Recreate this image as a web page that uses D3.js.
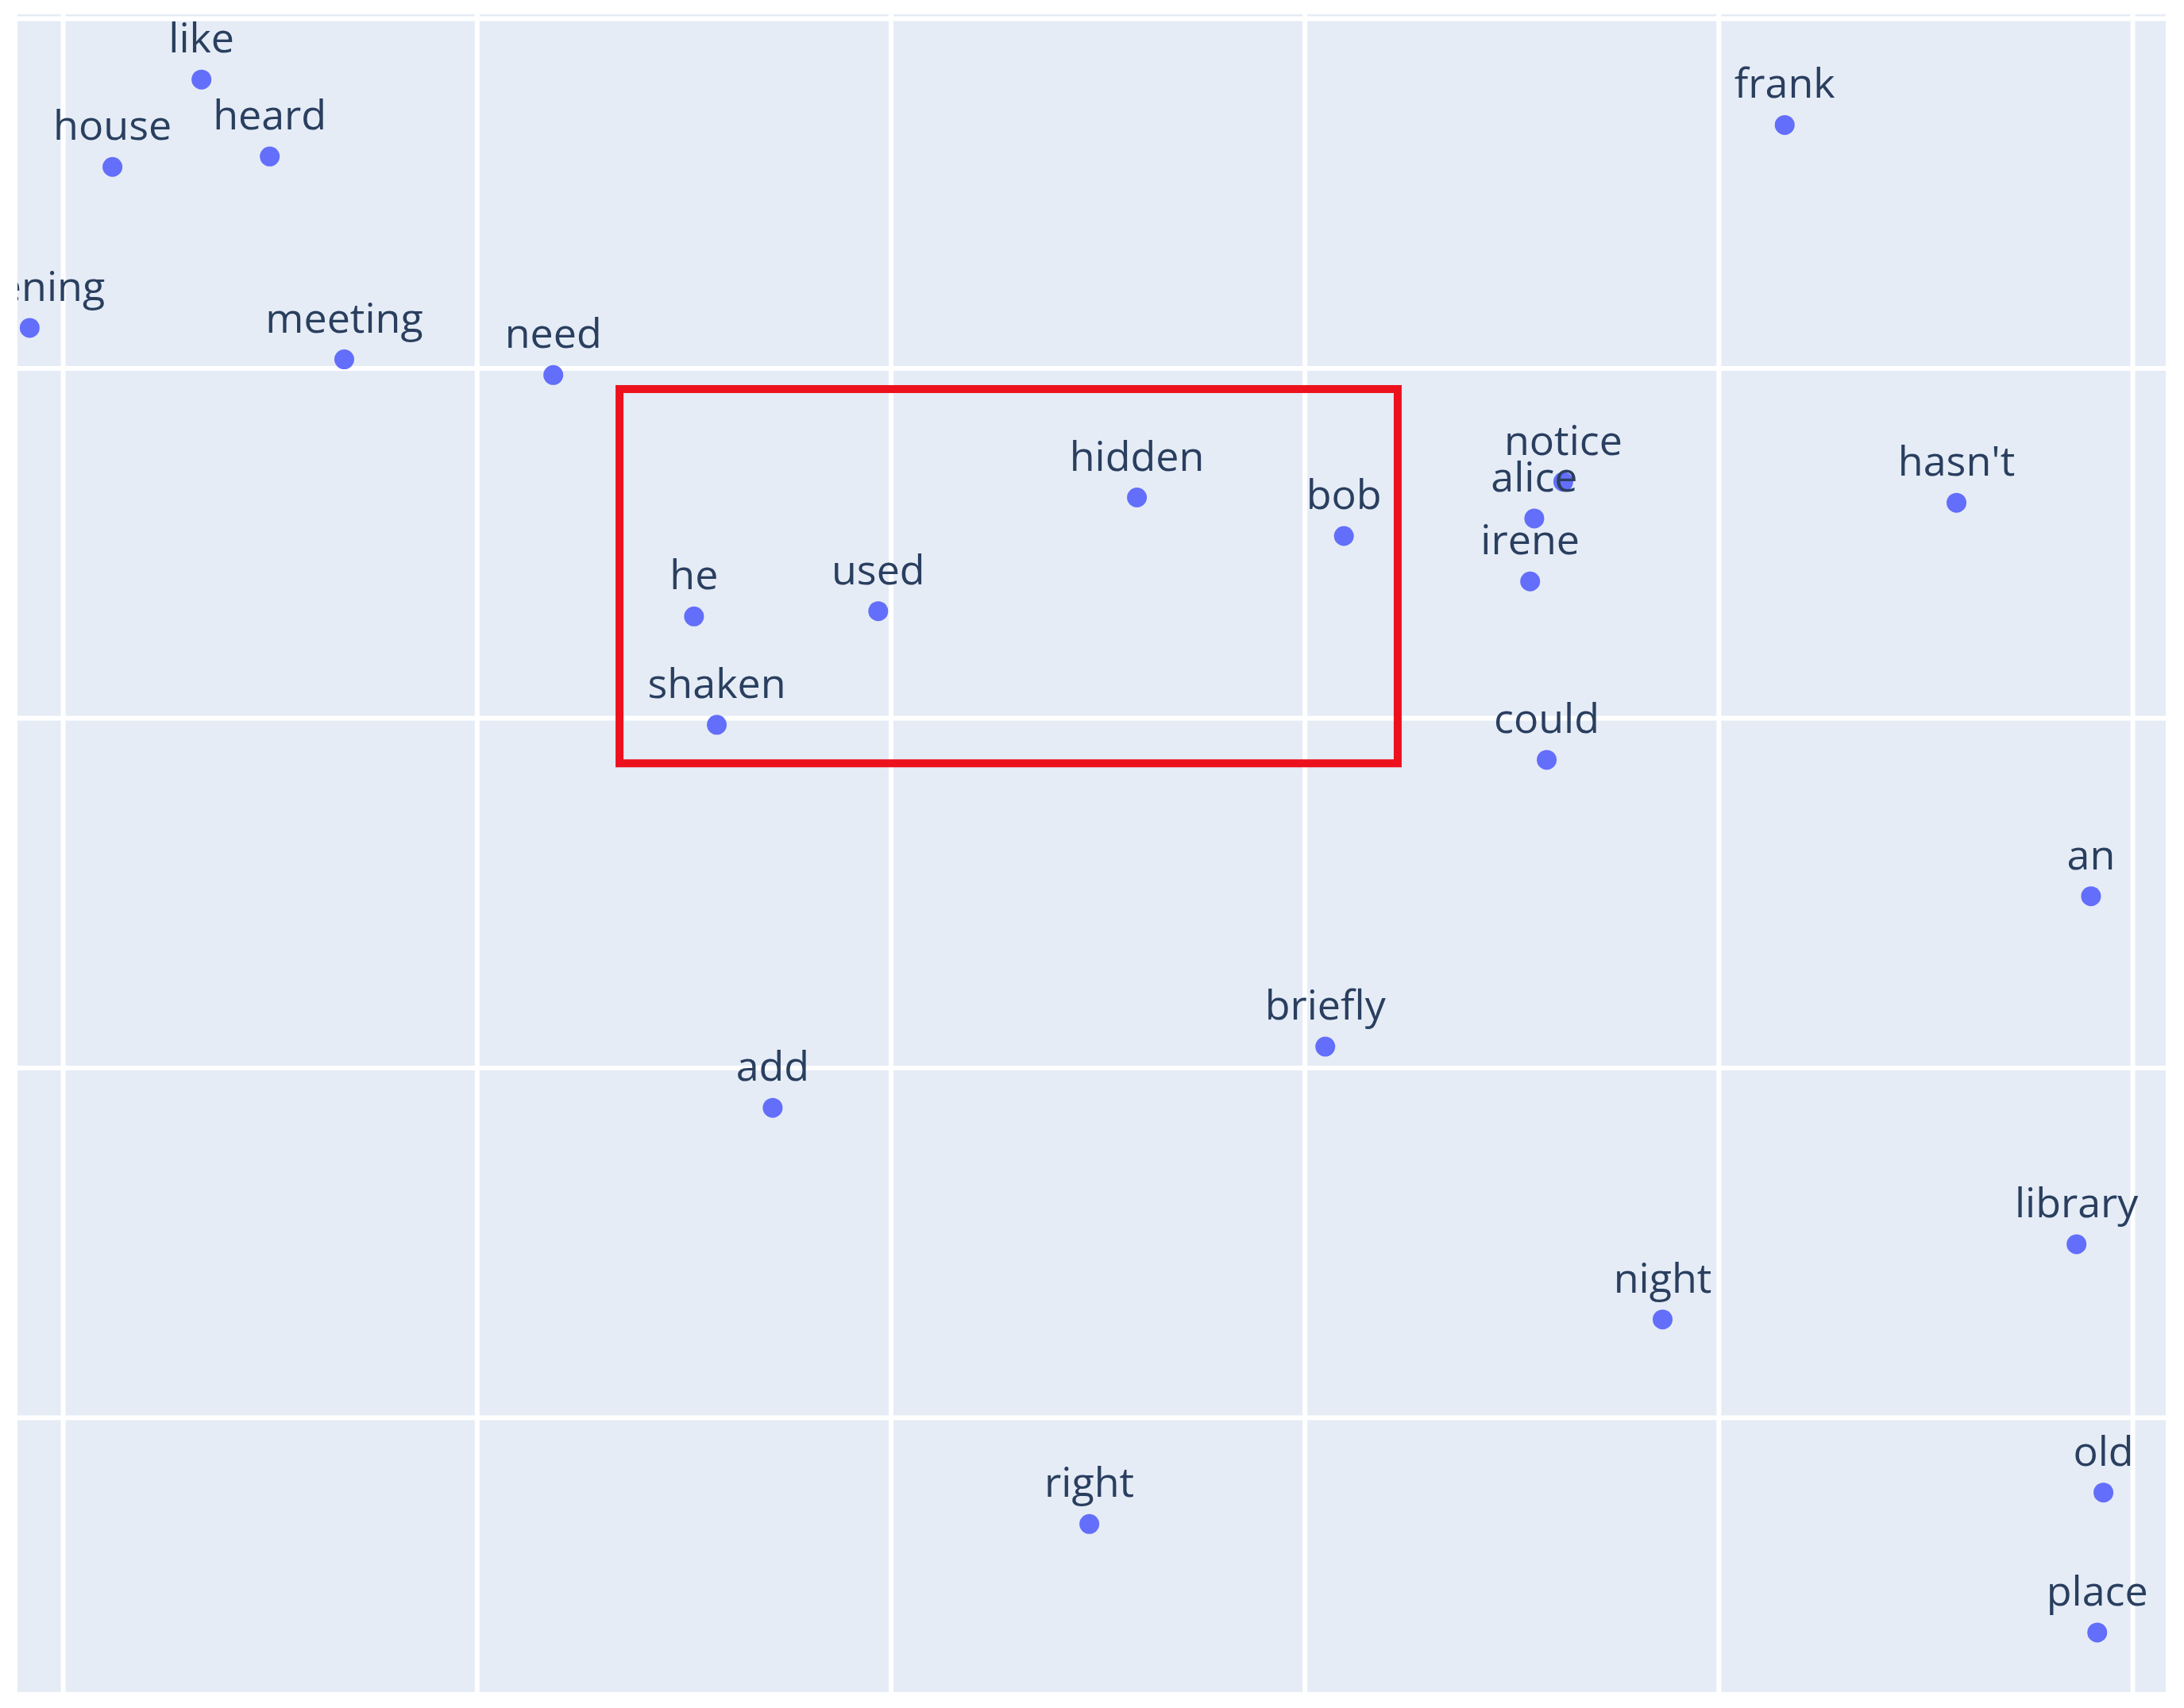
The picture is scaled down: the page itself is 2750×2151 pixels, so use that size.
<!DOCTYPE html>
<html>
<head>
<meta charset="utf-8">
<script src="https://cdn.jsdelivr.net/npm/d3@7"></script>
<style>
    body { margin: 0; background: #ffffff; }
    svg { display: block; }
</style>
</head>
<body>
<div id="chart"></div>
<script>
"use strict";

// word embedding projection, one label per point
const words = ["like", "house", "heard", "evening", "meeting", "need", "frank",
    "hidden", "bob", "he", "used", "shaken", "notice", "alice", "irene", "hasn't",
    "could", "an", "briefly", "add", "library", "night", "right", "old", "place"];
const xValues = [-3.33, -3.76, -3.00, -4.16, -2.64, -1.63, 4.32,
    1.19, 2.19, -0.95, -0.06, -0.84, 3.25, 3.11, 3.09, 5.15,
    3.17, 5.80, 2.10, -0.57, 5.73, 3.73, 0.96, 5.86, 5.83];
const yValues = [3.65, 3.15, 3.21, 2.23, 2.05, 1.96, 3.39,
    1.26, 1.04, 0.58, 0.61, -0.04, 1.35, 1.14, 0.78, 1.23,
    -0.24, -1.02, -1.88, -2.23, -3.01, -3.44, -4.61, -4.43, -5.23];

const xTicks = [-4, -2, 0, 2, 4, 6];
const yTicks = [-4, -2, 0, 2, 4];
const xDomain = [-4.219, 6.161];
const yDomain = [-5.571, 4.023];

// highlighted cluster (x0, x1, y0, y1)
const highlightX = [-1.31, 2.45];
const highlightY = [-0.26, 1.88];

const width = 2750, height = 2151;
const plot = {left: 22, right: 2727, top: 18, bottom: 2131};

const svg = d3.select("#chart")
    .append("svg")
    .attr("width", width)
    .attr("height", height);

const xScale = d3.scaleLinear()
    .domain(xDomain)
    .range([plot.left, plot.right]);
const yScale = d3.scaleLinear()
    .domain(yDomain)
    .range([plot.bottom, plot.top]);

svg.append("defs")
    .append("clipPath")
    .attr("id", "plot-clip")
    .append("rect")
    .attr("x", plot.left)
    .attr("y", plot.top)
    .attr("width", plot.right - plot.left)
    .attr("height", plot.bottom - plot.top);

svg.append("rect")
    .attr("x", plot.left)
    .attr("y", plot.top)
    .attr("width", plot.right - plot.left)
    .attr("height", plot.bottom - plot.top)
    .attr("fill", "#e5ecf6");

// gridlines through the axes, labels hidden
const xGrid = d3.axisBottom(xScale)
    .tickValues(xTicks)
    .tickSize(plot.bottom - plot.top)
    .tickFormat("");
const yGrid = d3.axisLeft(yScale)
    .tickValues(yTicks)
    .tickSize(-(plot.right - plot.left))
    .tickFormat("");

svg.append("g")
    .attr("class", "x-grid")
    .attr("transform", `translate(0,${plot.top})`)
    .call(xGrid)
    .call(g => g.select(".domain").remove());
svg.append("g")
    .attr("class", "y-grid")
    .attr("transform", `translate(${plot.left},0)`)
    .call(yGrid)
    .call(g => g.select(".domain").remove());

svg.selectAll(".x-grid line, .y-grid line")
    .attr("stroke", "#ffffff")
    .attr("stroke-width", 6);

const points = words.map((w, i) => ({word: w, x: xValues[i], y: yValues[i]}));

const layer = svg.append("g")
    .attr("clip-path", "url(#plot-clip)");

layer.selectAll("circle")
    .data(points)
    .enter()
    .append("circle")
    .attr("cx", d => xScale(d.x))
    .attr("cy", d => yScale(d.y))
    .attr("r", 12.5)
    .attr("fill", "#636efa");

layer.selectAll("text")
    .data(points)
    .enter()
    .append("text")
    .attr("x", d => xScale(d.x))
    .attr("y", d => yScale(d.y) - 34)
    .attr("text-anchor", "middle")
    .style("font-family", "'Open Sans', verdana, arial, sans-serif")
    .style("font-size", "52px")
    .style("fill", "#2a3f5f")
    .text(d => d.word);

svg.append("rect")
    .attr("x", xScale(highlightX[0]))
    .attr("y", yScale(highlightY[1]))
    .attr("width", xScale(highlightX[1]) - xScale(highlightX[0]))
    .attr("height", yScale(highlightY[0]) - yScale(highlightY[1]))
    .attr("fill", "none")
    .attr("stroke", "#ec111c")
    .attr("stroke-width", 10);
</script>
</body>
</html>
